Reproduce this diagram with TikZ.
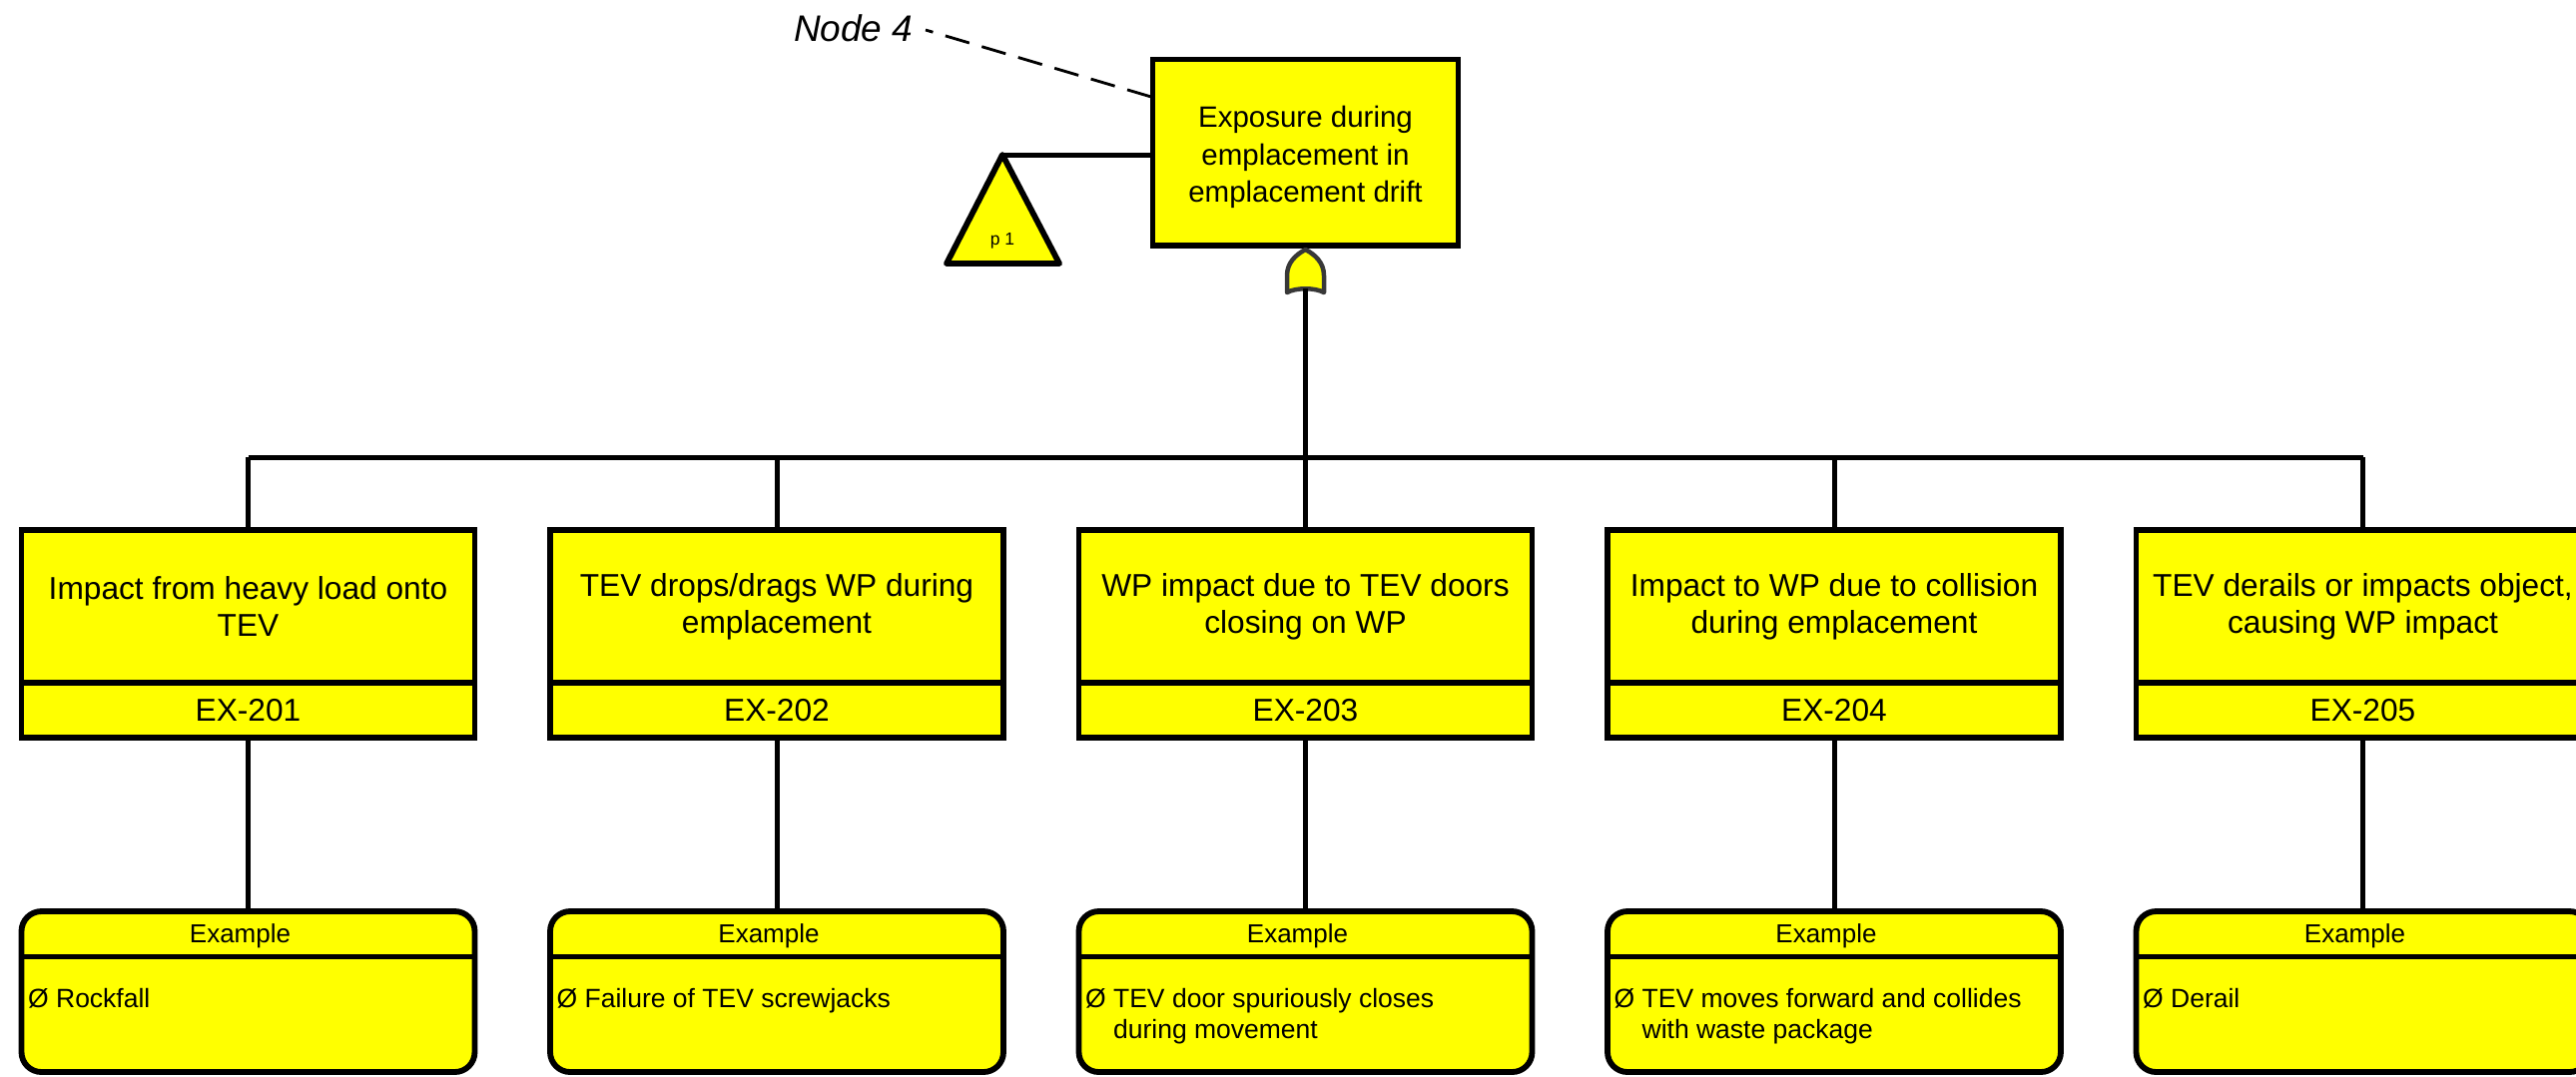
\documentclass[tikz,border=0pt]{standalone}
\usepackage{fontspec}
\setmainfont{Liberation Sans}
\usetikzlibrary{calc}
\definecolor{ftyellow}{HTML}{FFFF00}
\definecolor{gategray}{HTML}{383838}
\begin{document}
\begin{tikzpicture}[x=0.3pt,y=-0.3pt,
  box/.style={draw=black, fill=ftyellow, line width=1.75pt, inner sep=0pt, outer sep=0pt},
  evtext/.style={box, minimum width=136.2pt, minimum height=45.9pt, align=center,
                 font=\fontsize{9.5pt}{11pt}\selectfont},
  evid/.style={box, minimum width=136.2pt, minimum height=16.4pt,
               font=\fontsize{9.5pt}{11pt}\selectfont},
  exbox/.style={box, rounded corners=6pt, minimum width=136.2pt, minimum height=48.3pt},
  extitle/.style={font=\fontsize{7.8pt}{9.3pt}\selectfont, anchor=base, inner sep=0pt},
  exbody/.style={font=\fontsize{7.95pt}{9.3pt}\selectfont, align=left, anchor=north west, inner sep=0pt},
  topbox/.style={box, minimum width=91.8pt, minimum height=55.95pt},
  toptext/.style={align=center, inner sep=0pt, font=\fontsize{8.85pt}{11.2pt}\selectfont},
  wire/.style={line width=1.5pt},
  leader/.style={line width=0.85pt, dash pattern=on 7.5pt off 3.9pt},
  gatestyle/.style={draw=gategray, fill=ftyellow, line width=1.35pt, line join=round}]

\useasboundingbox (0,0) rectangle (2580,1078);
\clip (0,0) rectangle (2580,1078);

% top event
\node[topbox] (top) at (1307.5,152.75) {};
\node[toptext] (toptxt) at (1307.5,157.5)
  {Exposure during\\emplacement in\\emplacement drift};

% label tag with leader line
\node[font=\fontsize{11.1pt}{13pt}\selectfont\itshape, inner sep=0pt, anchor=east] (tag) at (915,28) {Node 4};
\coordinate (tagend) at (1153,97);
\draw[leader] (tagend) -- ($(tag.east)+(12,2)$);

% transfer triangle
\coordinate (tri) at (1004,155);
\draw[box, line join=round] (tri) -- (1061,264) -- (948,264) -- cycle;
\node[font=\fontsize{5.25pt}{6pt}\selectfont, inner sep=0pt] (ptag) at (1004,241) {p 1};
\draw[wire] (tri) -- (tri -| top.west);

% OR gate
\draw[gatestyle] (1289,293) -- (1289,276)
  .. controls (1289,263) and (1298,255) .. (1307.5,250)
  .. controls (1317,255) and (1326,263) .. (1326,276)
  -- (1326,293)
  .. controls (1317,288) and (1298,288) .. (1289,293) -- cycle;
\coordinate (gout) at (1307.5,289);
\coordinate (busc) at (1307.5,458);
\coordinate (divy) at (0,958);

% intermediate events and example boxes
\foreach \i/\cx/\ttl/\bdy in {
  1/248.5/{Impact from heavy load onto\\TEV}/{Ø Rockfall},
  2/778/{TEV drops/drags WP during\\emplacement}/{Ø Failure of TEV screwjacks},
  3/1307.5/{WP impact due to TEV doors\\closing on WP}/{Ø TEV door spuriously closes\\\hphantom{Ø\ }during movement},
  4/1837/{Impact to WP due to collision\\during emplacement}/{Ø TEV moves forward and collides\\\hphantom{Ø\ }with waste package},
  5/2366.5/{TEV derails or impacts object,\\causing WP impact}/{Ø Derail}} {
  \node[evtext] (ev\i) at (\cx,607.5) {\ttl};
  \node[evid] (id\i) at (\cx,711.35) {EX-20\i};
  \node[exbox] (ex\i) at (\cx,993.5) {};
  \draw[wire] (ex\i.west |- divy) -- (ex\i.east |- divy);
  \node[extitle] (ext\i) at (\cx-8,944) {Example};
  \node[exbody] (exb\i) at (\cx-221,990) {\bdy};
  \draw[wire] (id\i.south) -- (ex\i.north);
  \draw[wire] (ev\i.north) -- (ev\i.north |- busc);
}

% gate output and bus
\draw[wire] (gout) -- (busc);
\draw[wire] (ev1.north |- busc) -- (ev5.north |- busc);

\end{tikzpicture}
\end{document}
